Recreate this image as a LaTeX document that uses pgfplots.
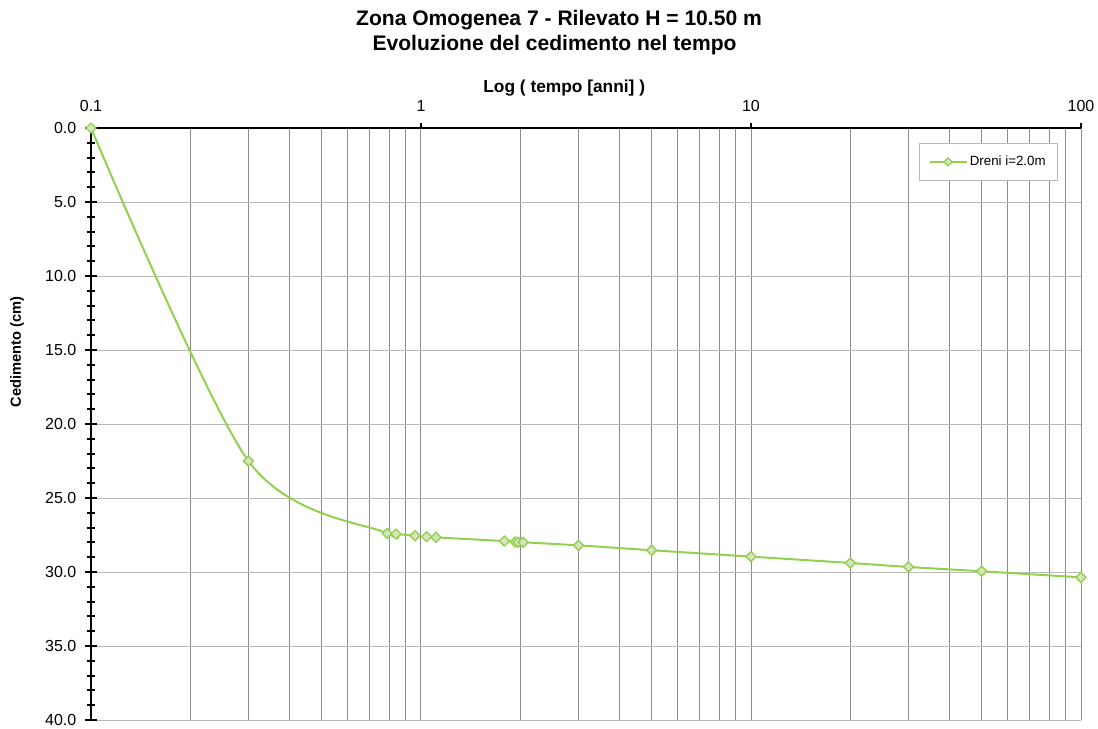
\documentclass[border=0pt]{standalone}
\usepackage{fontspec}
\setmainfont{Liberation Sans}
\usepackage{pgfplots}
\pgfplotsset{compat=1.18}
\definecolor{lgreen}{RGB}{146,208,80}
\definecolor{mfill}{RGB}{215,228,188}
\definecolor{vgrid}{RGB}{140,140,140}
\definecolor{hgrid}{RGB}{185,185,185}
\begin{document}
\begin{tikzpicture}
\path[use as bounding box] (0,0) rectangle (823.5pt,-546pt);
\node[font=\bfseries\fontsize{15.8}{18}\selectfont] at (419.25pt,-15pt) {Zona Omogenea 7 - Rilevato H = 10.50 m};
\node[font=\bfseries\fontsize{15.8}{18}\selectfont] at (415.9pt,-33.75pt) {Evoluzione del cedimento nel tempo};
\begin{axis}[
  at={(68.25pt,-96pt)}, anchor=north west,
  scale only axis, width=742.5pt, height=444pt,
  xmode=log, xmin=0.1, xmax=100,
  ymin=0, ymax=40, y dir=reverse,
  axis x line*=top, axis y line*=left,
  axis line style={line width=1.5pt, black},
  xtick={0.1,1,10,100}, xticklabels={0.1,1,10,100},
  minor xtick={0.2,0.3,0.4,0.5,0.6,0.7,0.8,0.9,2,3,4,5,6,7,8,9,20,30,40,50,60,70,80,90},
  minor x tick style={draw=none},
  xtick align=outside,
  ytick={0,5,...,40}, minor y tick num=4,
  ytick align=center,
  major tick length=9pt, minor tick length=6.75pt,
  tick style={line width=1.5pt, black},
  xtick style={/pgfplots/major tick length=3.75pt},
  yticklabel style={xshift=-3pt, /pgf/number format/.cd, fixed, fixed zerofill, precision=1},
  /pgf/number format/assume math mode=true,
  ticklabel style={font=\fontsize{12}{14}\selectfont},
  xmajorgrids, xminorgrids, ymajorgrids,
  major x grid style={vgrid, line width=0.75pt},
  minor x grid style={vgrid, line width=0.75pt},
  major y grid style={hgrid, line width=0.75pt},
  xlabel={Log ( tempo [anni] )},
  xlabel style={font=\bfseries\fontsize{13}{15}\selectfont, at={(axis description cs:0.478,1)}, anchor=center, yshift=30pt},
  ylabel={Cedimento (cm)},
  ylabel style={font=\bfseries\fontsize{11}{13}\selectfont, at={(axis description cs:-0.0747,0.622)}, anchor=center},
  legend style={at={(0.977,0.975)}, anchor=north east, draw=hgrid, line width=0.75pt, font=\fontsize{10}{12}\selectfont, inner xsep=7pt, inner ysep=7.5pt, cells={anchor=west}},
  legend image code/.code={\draw[#1, mark repeat=2, mark phase=2, mark size=2.1pt] plot coordinates {(0pt,0pt) (13.5pt,0pt) (27pt,0pt)};},
  clip mode=individual,
]
\addplot[color=lgreen, line width=1.5pt, smooth, mark=square*, mark size=2.65pt, mark options={rotate=45, fill=mfill, draw=lgreen, line width=1pt, solid}] coordinates {
(0.1,0) (0.3,22.5) (0.79,27.39) (0.84,27.43) (0.96,27.55) (1.04,27.61) (1.11,27.66)
(1.79,27.91) (1.93,27.97) (1.97,27.99) (2.04,27.99) (3,28.2) (5,28.53)
(10,28.96) (20,29.39) (30,29.66) (50,29.95) (100,30.36)
};
\addlegendentry{Dreni i=2.0m}
\end{axis}
\end{tikzpicture}
\end{document}
